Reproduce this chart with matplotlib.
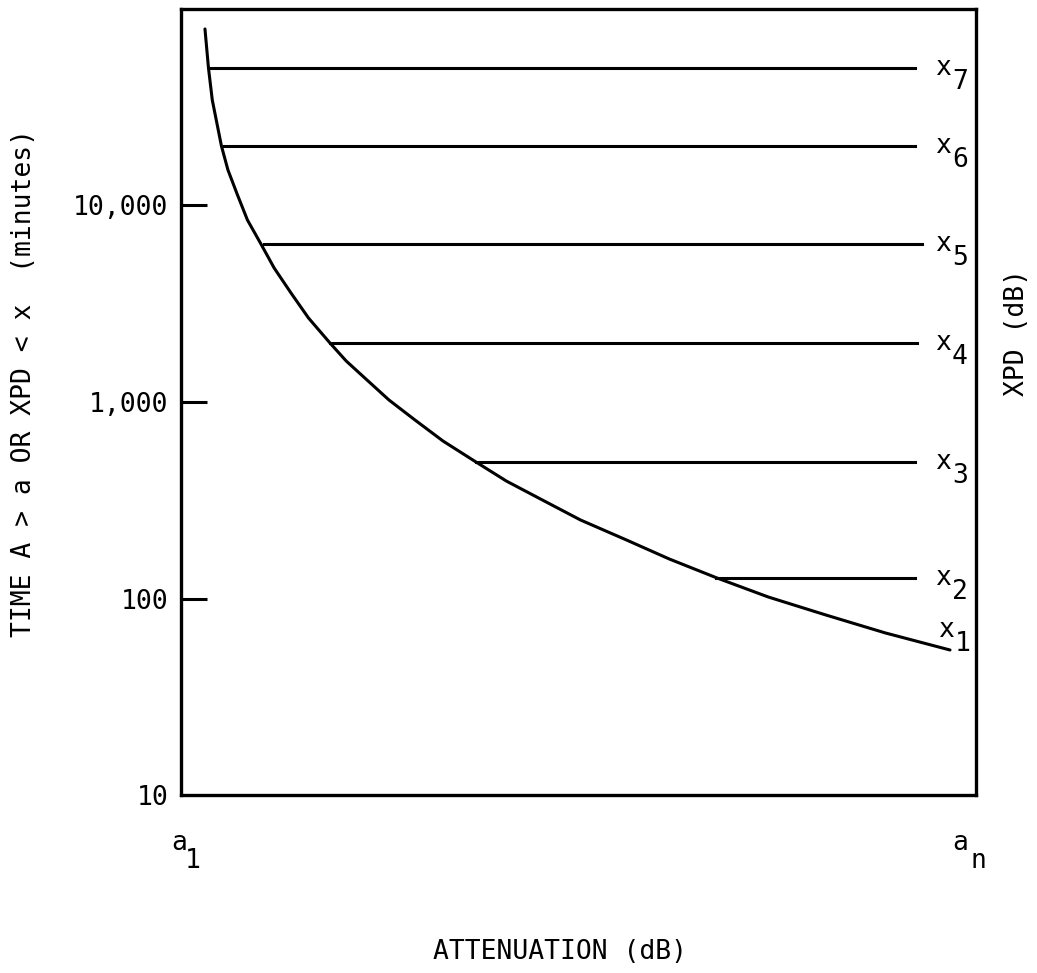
import matplotlib
matplotlib.use("Agg")
import matplotlib.pyplot as plt
from matplotlib.ticker import NullLocator

# curva: tiempo (min) en que A > a, atenuacion normalizada entre a1 y an
atenuacion = [0.0302, 0.0346, 0.0394, 0.0509, 0.0591, 0.0711, 0.0836, 0.1006,
              0.1172, 0.1384, 0.1604, 0.1874, 0.2078, 0.2340, 0.2616, 0.2943,
              0.3296, 0.3711, 0.4093, 0.4547, 0.5025, 0.5604, 0.6142, 0.6742,
              0.7387, 0.8113, 0.8860, 0.9673]
tiempo = [79100, 50100, 34400, 20090, 15160, 11310, 8438, 6370,
          4808, 3587, 2676, 1997, 1617, 1294, 1024, 810,
          633, 495, 396, 317, 251, 198.5, 158.9, 127.2,
          101.8, 82.4, 66.8, 54.7]

# niveles XPD x7 ... x2 (lineas horizontales)
niveles_xpd = [50100, 20090, 6370, 1997, 495, 127.2]
inicio_xpd = [0.0365, 0.0540, 0.104, 0.187, 0.371, 0.673]
fin_xpd = [0.923, 0.923, 0.932, 0.926, 0.923, 0.923]
nombres_xpd = ['7', '6', '5', '4', '3', '2']

yticks = [10, 100, 1000, 10000]
ytick_labels = ['10', '100', '1,000', '10,000']

fuente = 'DejaVu Sans Mono'
tam = 19
lw = 2.2

fig = plt.figure(figsize=(10.37, 9.73), dpi=100)
ax = fig.add_axes([0.1745, 0.1829, 0.7667, 0.8079])

ax.plot(atenuacion, tiempo, color='black', lw=lw, solid_capstyle='round',
        solid_joinstyle='round')
for nivel, x0, x1 in zip(niveles_xpd, inicio_xpd, fin_xpd):
    ax.plot([x0, x1], [nivel, nivel], color='black', lw=lw)

# etiquetas x_i con subindice
def etiqueta_x(xd, yd, num, dx=20, dy=0):
    ax.annotate('x', xy=(xd, yd), xytext=(dx, dy), textcoords='offset pixels',
                ha='left', va='center', fontsize=tam, family=fuente)
    ax.annotate(num, xy=(xd, yd), xytext=(dx + 17, dy - 14), textcoords='offset pixels',
                ha='left', va='center', fontsize=tam, family=fuente)

for nivel, x1, num in zip(niveles_xpd, fin_xpd, nombres_xpd):
    etiqueta_x(x1, nivel, num, dx=20 - (x1 - 0.923) * 795)
etiqueta_x(atenuacion[-1], tiempo[-1], '1', dx=-12, dy=20)

ax.set_yscale('log')
ax.set_ylim(10, 1e5)
ax.set_xlim(0, 1)
ax.set_yticks(yticks)
ax.set_yticklabels(ytick_labels, family=fuente, fontsize=tam)
ax.yaxis.set_minor_locator(NullLocator())
ax.tick_params(axis='y', direction='in', length=18.7, width=2.2, pad=9)
ax.yaxis.get_major_ticks()[0].tick1line.set_visible(False)
ax.set_xticks([])
for s in ax.spines.values():
    s.set_linewidth(2.4)

# a1 y an bajo el eje
for xd, sub, dxa, dxs in [(0.0, '1', -10, 4), (1.0, 'n', -24, -6)]:
    ax.annotate('a', xy=(xd, 0), xycoords=('data', 'axes fraction'),
                xytext=(dxa, -48), textcoords='offset pixels',
                ha='left', va='center', fontsize=tam, family=fuente)
    ax.annotate(sub, xy=(xd, 0), xycoords=('data', 'axes fraction'),
                xytext=(dxs, -66), textcoords='offset pixels',
                ha='left', va='center', fontsize=tam, family=fuente)

fig.text(560 / 1037, 1 - 952 / 973, 'ATTENUATION (dB)', ha='center', va='center',
         fontsize=tam, family=fuente)
fig.text(24 / 1037, 1 - 383 / 973, 'TIME A > a OR XPD < x  (minutes)', rotation=90,
         ha='center', va='center', fontsize=tam, family=fuente)
fig.text(1017 / 1037, 1 - 333 / 973, 'XPD (dB)', rotation=90,
         ha='center', va='center', fontsize=tam, family=fuente)

fig.savefig('out.png', dpi=100)
